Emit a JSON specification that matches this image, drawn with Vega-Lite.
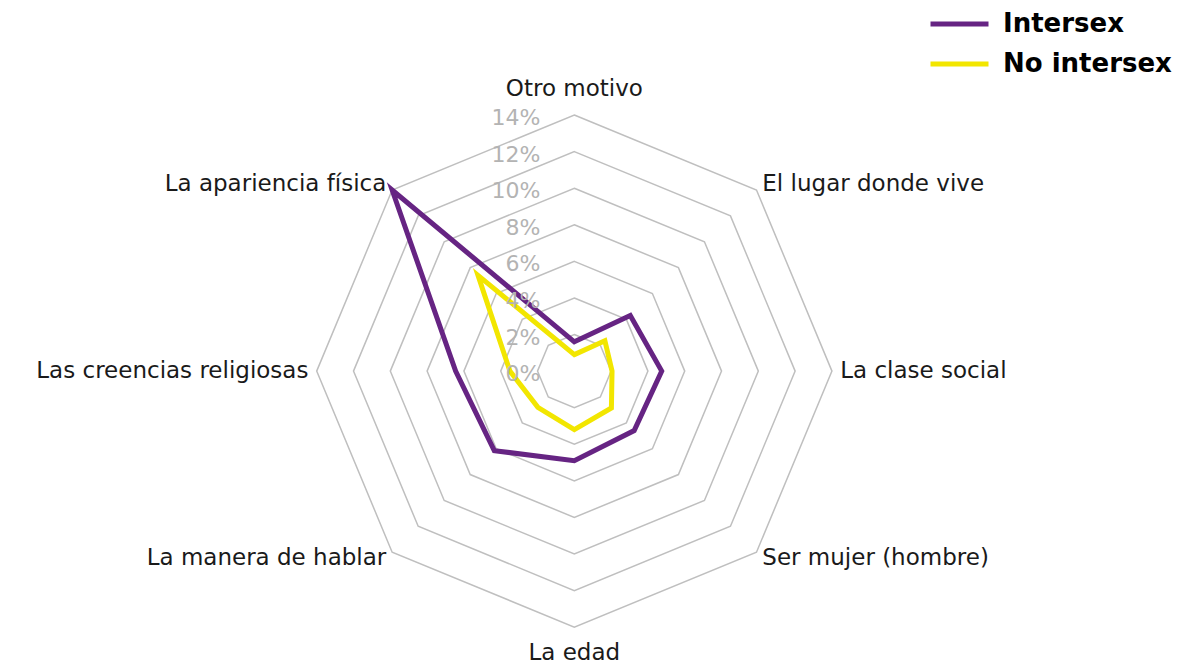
{
  "$schema": "https://vega.github.io/schema/vega-lite/v6.json",
  "width": 1179,
  "height": 665,
  "autosize": {"type": "fit", "contains": "padding"},
  "padding": 0,
  "background": "white",
  "config": {"view": {"stroke": null}, "font": "DejaVu Sans"},
  "datasets": {
    "series": [
      {"grupo": "Intersex", "categoria": "Otro motivo", "idx": 0, "valor": 1.6},
      {"grupo": "Intersex", "categoria": "El lugar donde vive", "idx": 1, "valor": 4.3},
      {"grupo": "Intersex", "categoria": "La clase social", "idx": 2, "valor": 4.75},
      {"grupo": "Intersex", "categoria": "Ser mujer (hombre)", "idx": 3, "valor": 4.6},
      {"grupo": "Intersex", "categoria": "La edad", "idx": 4, "valor": 4.9},
      {"grupo": "Intersex", "categoria": "La manera de hablar", "idx": 5, "valor": 6.15},
      {"grupo": "Intersex", "categoria": "Las creencias religiosas", "idx": 6, "valor": 6.45},
      {"grupo": "Intersex", "categoria": "La apariencia física", "idx": 7, "valor": 14.0},
      {"grupo": "No intersex", "categoria": "Otro motivo", "idx": 0, "valor": 0.9},
      {"grupo": "No intersex", "categoria": "El lugar donde vive", "idx": 1, "valor": 2.35},
      {"grupo": "No intersex", "categoria": "La clase social", "idx": 2, "valor": 2.05},
      {"grupo": "No intersex", "categoria": "Ser mujer (hombre)", "idx": 3, "valor": 2.85},
      {"grupo": "No intersex", "categoria": "La edad", "idx": 4, "valor": 3.2},
      {"grupo": "No intersex", "categoria": "La manera de hablar", "idx": 5, "valor": 2.8},
      {"grupo": "No intersex", "categoria": "Las creencias religiosas", "idx": 6, "valor": 3.5},
      {"grupo": "No intersex", "categoria": "La apariencia física", "idx": 7, "valor": 7.4}
    ],
    "ejes": [
      {"categoria": "Otro motivo", "idx": 0},
      {"categoria": "El lugar donde vive", "idx": 1},
      {"categoria": "La clase social", "idx": 2},
      {"categoria": "Ser mujer (hombre)", "idx": 3},
      {"categoria": "La edad", "idx": 4},
      {"categoria": "La manera de hablar", "idx": 5},
      {"categoria": "Las creencias religiosas", "idx": 6},
      {"categoria": "La apariencia física", "idx": 7}
    ],
    "niveles": [
      {"nivel": 2, "k": [0, 1, 2, 3, 4, 5, 6, 7]},
      {"nivel": 4, "k": [0, 1, 2, 3, 4, 5, 6, 7]},
      {"nivel": 6, "k": [0, 1, 2, 3, 4, 5, 6, 7]},
      {"nivel": 8, "k": [0, 1, 2, 3, 4, 5, 6, 7]},
      {"nivel": 10, "k": [0, 1, 2, 3, 4, 5, 6, 7]},
      {"nivel": 12, "k": [0, 1, 2, 3, 4, 5, 6, 7]},
      {"nivel": 14, "k": [0, 1, 2, 3, 4, 5, 6, 7]}
    ],
    "ticks": [
      {"nivel": 0, "etiqueta": "0%"},
      {"nivel": 2, "etiqueta": "2%"},
      {"nivel": 4, "etiqueta": "4%"},
      {"nivel": 6, "etiqueta": "6%"},
      {"nivel": 8, "etiqueta": "8%"},
      {"nivel": 10, "etiqueta": "10%"},
      {"nivel": 12, "etiqueta": "12%"},
      {"nivel": 14, "etiqueta": "14%"}
    ]
  },
  "encoding": {
    "x": {"field": "x", "type": "quantitative", "scale": {"domain": [-31.21, 32.86], "nice": false, "zero": false}, "axis": null},
    "y": {"field": "y", "type": "quantitative", "scale": {"domain": [-15.85, 20.29], "nice": false, "zero": false}, "axis": null}
  },
  "layer": [
    {
      "data": {"name": "niveles"},
      "transform": [
        {"flatten": ["k"]},
        {"calculate": "PI/2 - datum.k*PI/4", "as": "a"},
        {"calculate": "datum.nivel*cos(datum.a)", "as": "x"},
        {"calculate": "datum.nivel*sin(datum.a)", "as": "y"}
      ],
      "mark": {"type": "line", "interpolate": "linear-closed", "stroke": "#bfbfbf", "strokeWidth": 1.5},
      "encoding": {"detail": {"field": "nivel"}, "order": {"field": "k"}}
    },
    {
      "data": {"name": "series"},
      "transform": [
        {"calculate": "PI/2 - datum.idx*PI/4", "as": "a"},
        {"calculate": "datum.valor*cos(datum.a)", "as": "x"},
        {"calculate": "datum.valor*sin(datum.a)", "as": "y"}
      ],
      "mark": {"type": "line", "interpolate": "linear-closed", "strokeWidth": 5, "strokeJoin": "miter"},
      "encoding": {
        "color": {
          "field": "grupo", "type": "nominal",
          "scale": {"domain": ["Intersex", "No intersex"], "range": ["#662483", "#f2e600"]},
          "legend": {
            "orient": "none", "legendX": 928, "legendY": 4, "title": null,
            "symbolType": "stroke", "symbolStrokeWidth": 5, "symbolSize": 3364,
            "labelFontSize": 26, "labelFontWeight": "bold", "labelColor": "#000000",
            "labelOffset": 12, "rowPadding": 0, "clipHeight": 40, "labelLimit": 400
          }
        },
        "order": {"field": "idx"}
      }
    },
    {
      "data": {"name": "ticks"},
      "transform": [
        {"calculate": "0", "as": "x"},
        {"calculate": "datum.nivel", "as": "y"}
      ],
      "mark": {"type": "text", "align": "right", "baseline": "middle", "dx": -34, "dy": 3, "fontSize": 22, "color": "#b3b3b3"},
      "encoding": {"text": {"field": "etiqueta"}}
    },
    {
      "data": {"name": "ejes"},
      "transform": [
        {"calculate": "PI/2 - datum.idx*PI/4", "as": "a"},
        {"calculate": "(datum.idx == 0 || datum.idx == 4) ? 15.4 : 14.45", "as": "r"},
        {"calculate": "datum.r*cos(datum.a)", "as": "x"},
        {"calculate": "datum.r*sin(datum.a)", "as": "y"}
      ],
      "layer": [
        {
          "transform": [{"filter": "datum.idx >= 1 && datum.idx <= 3"}],
          "mark": {"type": "text", "align": "left", "baseline": "middle", "fontSize": 23, "color": "#1a1a1a"},
          "encoding": {"text": {"field": "categoria"}}
        },
        {
          "transform": [{"filter": "datum.idx == 0 || datum.idx == 4"}],
          "mark": {"type": "text", "align": "center", "baseline": "middle", "fontSize": 23, "color": "#1a1a1a"},
          "encoding": {"text": {"field": "categoria"}}
        },
        {
          "transform": [{"filter": "datum.idx >= 5"}],
          "mark": {"type": "text", "align": "right", "baseline": "middle", "fontSize": 23, "color": "#1a1a1a"},
          "encoding": {"text": {"field": "categoria"}}
        }
      ]
    }
  ]
}
